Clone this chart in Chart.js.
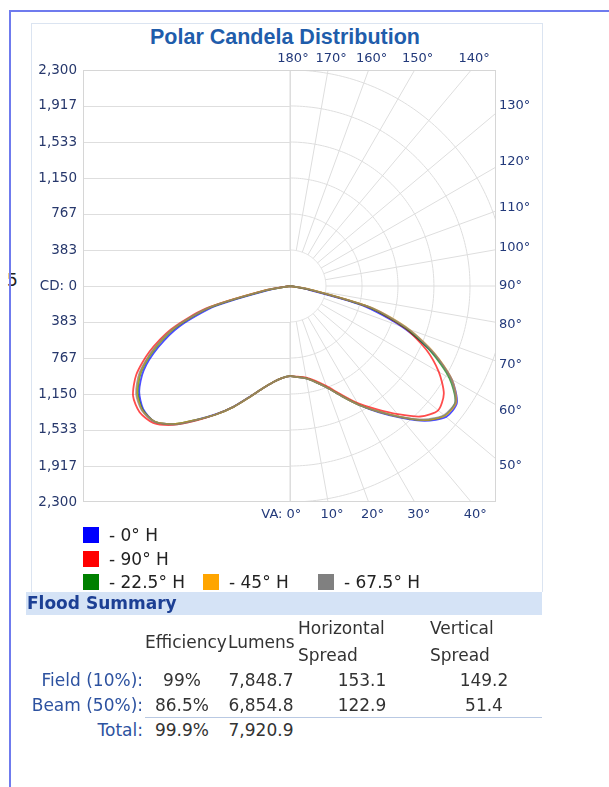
<!DOCTYPE html>
<html><head><meta charset="utf-8">
<script src="https://cdn.jsdelivr.net/npm/chart.js@4/dist/chart.umd.min.js"></script>
<style>
html,body{margin:0;padding:0;background:#fff;width:609px;height:787px;overflow:hidden;font-family:"DejaVu Sans",sans-serif;}
#stray{position:absolute;left:7px;top:270px;font-size:17px;color:#222;}
#frame{position:absolute;left:9px;top:10px;width:700px;height:800px;border-left:2px solid #6f7bee;border-top:2px solid #6f7bee;}
#panel{position:absolute;left:31px;top:23px;width:510px;height:568px;border:1px solid #dbe4f1;border-bottom:none;}
#title{position:absolute;left:32px;width:506px;top:24px;line-height:26px;text-align:center;font-weight:bold;font-size:21.5px;font-family:"Liberation Sans",Arial,sans-serif;color:#1f5dab;}
#chartWrap{position:absolute;left:32px;top:24px;width:510px;height:505px;}
#legend{position:absolute;left:83px;top:526px;font-size:17px;color:#222;}
.lrow{height:23.5px;line-height:18px;white-space:nowrap;}
.litem{display:inline-block;vertical-align:top;}
.lsw{display:inline-block;width:16px;height:16px;vertical-align:top;margin-top:1px;margin-right:10px;}
#bar{position:absolute;left:26px;top:592px;width:516px;height:23px;background:#d5e3f6;}
#bar span{position:absolute;left:1px;top:0;line-height:23px;font-weight:bold;font-size:17px;color:#1c3f94;}
.t{position:absolute;font-size:17px;line-height:20px;color:#333;white-space:nowrap;}
.lab{color:#2d52a0;text-align:right;}
.c{transform:translateX(-50%);}
#uline{position:absolute;left:145px;top:717px;width:397px;height:1px;background:#b9c9e3;}
</style></head>
<body>
<div id="stray">5</div>
<div id="frame"></div>
<div id="panel"></div>
<div id="title">Polar Candela Distribution</div>
<div id="chartWrap"><canvas id="c" width="510" height="505"></canvas></div>
<div id="legend"></div>
<div id="bar"><span>Flood Summary</span></div>
<div id="table"></div>
<div id="uline"></div>
<script>
// ---- data ----
const verticalAngles = [0,5,10,15,20,25,30,35,40,45,50,55,60,65,70,75,80,85,90];
// candela, right half of each plane (H) and left half (H+180)
const cd0H_right    = [960,975,1000,1060,1150,1290,1460,1640,1830,2030,2170,2170,1990,1680,1270,800,150,0,0];
const cd0H_left     = [960,985,1040,1130,1255,1415,1575,1740,1920,2040,2040,1960,1800,1550,1250,820,200,0,0];
const cd90H_right   = [955,970,990,1045,1135,1270,1440,1600,1780,1965,2060,2000,1830,1600,1300,870,200,0,0];
const cd90H_left    = [960,985,1040,1130,1260,1420,1580,1750,1930,2060,2090,2040,1890,1650,1350,930,280,0,0];
const cd22H_right   = [960,975,1000,1060,1150,1290,1460,1630,1820,2020,2150,2150,1960,1660,1310,870,200,0,0];
const cd22H_left    = [960,985,1040,1130,1260,1420,1580,1740,1920,2040,2050,1980,1830,1590,1300,880,250,0,0];
const cd45H_right   = [960,975,1000,1060,1150,1290,1460,1630,1820,2020,2150,2160,1990,1700,1350,910,230,0,0];
const cd45H_left    = [960,985,1040,1130,1260,1420,1580,1740,1920,2040,2055,1990,1840,1600,1310,890,260,0,0];
const cd67H_right   = [960,975,1000,1060,1150,1290,1460,1630,1820,2010,2140,2150,1980,1690,1340,900,220,0,0];
const cd67H_left    = [960,985,1040,1130,1260,1420,1580,1745,1925,2045,2060,2000,1850,1610,1320,900,265,0,0];
const seriesLabels  = ['- 0° H','- 90° H','- 22.5° H','- 45° H','- 67.5° H'];
const seriesColors  = ['#0000ff','#ff0000','#008000','#ffa500','#808080'];
const cdTicks       = [0,383,767,1150,1533,1917,2300];
const gridAngles    = [0,10,20,30,40,50,60,70,80,90,100,110,120,130,140,150,160,170,180];
const topAngles     = [180,170,160,150,140];
const rightAngles   = [130,120,110,100,90,80,70,60,50];
const bottomAngles  = [0,10,20,30,40];
// summary table
const summaryLabels = ['Field (10%):','Beam (50%):','Total:'];
const efficiency    = ['99%','86.5%','99.9%'];
const lumens        = ['7,848.7','6,854.8','7,920.9'];
const hSpread       = ['153.1','122.9'];
const vSpread       = ['149.2','51.4'];

const rad = d => d*Math.PI/180;
function planePoints(left, right){
  const pts=[];
  for(let i=verticalAngles.length-1;i>=0;i--){const t=rad(verticalAngles[i]);pts.push({x:-left[i]*Math.sin(t),y:-left[i]*Math.cos(t)});}
  for(let i=1;i<verticalAngles.length;i++){const t=rad(verticalAngles[i]);pts.push({x:right[i]*Math.sin(t),y:-right[i]*Math.cos(t)});}
  return pts;
}
function alpha(hex,a){const n=parseInt(hex.slice(1),16);return 'rgba('+(n>>16)+','+((n>>8)&255)+','+(n&255)+','+a+')';}
const planes = [[cd0H_left,cd0H_right],[cd90H_left,cd90H_right],[cd22H_left,cd22H_right],[cd45H_left,cd45H_right],[cd67H_left,cd67H_right]];
const datasets = planes.map((p,i)=>({label:seriesLabels[i],data:planePoints(p[0],p[1]),borderColor:alpha(seriesColors[i],0.7),backgroundColor:seriesColors[i],legendColor:seriesColors[i],showLine:true,pointRadius:0,borderWidth:1.8,tension:0.25,fill:false,order:-i}));

const cdMax = 2300;
const allTicks = cdTicks.concat(cdTicks.filter(v=>v>0).map(v=>-v));
const labelFont = '13px "DejaVu Sans"';
const labelColor = '#22397a';

function rayHit(chart, deg){
  const {chartArea:a, scales:{x,y}} = chart;
  const cx=x.getPixelForValue(0), cy=y.getPixelForValue(0);
  const t=rad(deg);
  const dx=x.getPixelForValue(1000*Math.sin(t))-cx, dy=y.getPixelForValue(-1000*Math.cos(t))-cy;
  let k=Infinity;
  if(dx>1e-9) k=Math.min(k,(a.right-cx)/dx);
  if(dy<-1e-9) k=Math.min(k,(a.top-cy)/dy);
  if(dy>1e-9) k=Math.min(k,(a.bottom-cy)/dy);
  return {x:cx+dx*k,y:cy+dy*k};
}

const polarGrid = {
  id:'polarGrid',
  beforeDatasetsDraw(chart){
    const {ctx, chartArea:a, scales:{x,y}} = chart;
    const cx=x.getPixelForValue(0), cy=y.getPixelForValue(0);
    ctx.save();
    ctx.beginPath(); ctx.rect(a.left,a.top,a.right-a.left,a.bottom-a.top); ctx.clip();
    ctx.lineWidth=1; ctx.strokeStyle='#dedede';
    allTicks.forEach(v=>{const py=Math.round(y.getPixelForValue(v))+0.5;ctx.beginPath();ctx.moveTo(a.left,py);ctx.lineTo(cx,py);ctx.stroke();});
    ctx.beginPath();ctx.moveTo(Math.round(cx)+0.5,a.top);ctx.lineTo(Math.round(cx)+0.5,a.bottom);ctx.stroke();
    cdTicks.filter(v=>v>0).forEach(r=>{
      ctx.beginPath();
      for(let d=0;d<=180;d+=1){const t=rad(d);const px=x.getPixelForValue(r*Math.sin(t)),py=y.getPixelForValue(-r*Math.cos(t));if(d===0)ctx.moveTo(px,py);else ctx.lineTo(px,py);}
      ctx.stroke();
    });
    const r0=cdTicks[1];
    gridAngles.forEach(d=>{
      const t=rad(d);
      ctx.beginPath();
      ctx.moveTo(x.getPixelForValue(r0*Math.sin(t)),y.getPixelForValue(-r0*Math.cos(t)));
      ctx.lineTo(x.getPixelForValue(6000*Math.sin(t)),y.getPixelForValue(-6000*Math.cos(t)));
      ctx.stroke();
    });
    ctx.restore();
    ctx.save();
    ctx.strokeStyle='#d6d6d6';ctx.lineWidth=1;
    ctx.strokeRect(Math.round(a.left)+0.5,Math.round(a.top)+0.5,Math.round(a.right-a.left)-1,Math.round(a.bottom-a.top)-1);
    ctx.restore();
  },
  afterDraw(chart){
    const {ctx, chartArea:a} = chart;
    ctx.save();
    ctx.font=labelFont; ctx.fillStyle=labelColor; ctx.textBaseline='middle';
    topAngles.forEach(d=>{const p=rayHit(chart,d);ctx.textAlign='center';ctx.fillText(d+'°',p.x+3,a.top-11);});
    rightAngles.forEach(d=>{const p=rayHit(chart,d);ctx.textAlign='left';ctx.fillText(d+'°',a.right+3,p.y+11*Math.cos(rad(d)));});
    bottomAngles.forEach(d=>{const p=rayHit(chart,d);ctx.textAlign='center';const yy=a.bottom+13;ctx.fillText(d+'°',p.x+4,yy);
      if(d===0){const w=ctx.measureText(d+'°').width;ctx.textAlign='right';ctx.fillText('VA: ',p.x+4-w/2,yy);}});
    ctx.restore();
  }
};

const chart = new Chart(document.getElementById('c'),{
  type:'scatter',
  data:{datasets},
  options:{
    responsive:false, animation:false, devicePixelRatio:1,
    layout:{padding:{top:46,right:46,bottom:27,left:0}},
    plugins:{legend:{display:false},tooltip:{enabled:false},title:{display:false}},
    scales:{
      x:{type:'linear',min:-2204,max:2194,display:false},
      y:{type:'linear',min:-cdMax,max:cdMax,
        afterBuildTicks:s=>{s.ticks=allTicks.slice().sort((p,q)=>p-q).map(v=>({value:v}));},
        afterFit:s=>{s.width=51;},
        grid:{display:false,drawTicks:false},border:{display:false},
        ticks:{padding:6,color:'#27386c',font:{family:'DejaVu Sans',size:13.5},autoSkip:false,
          callback:v=>v===0?'CD: 0':Math.abs(v).toLocaleString('en-US')}}
    }
  },
  plugins:[polarGrid]
});

// legend
const lg=document.getElementById('legend');
const rows=[[0],[1],[2,3,4]];
const widths={2:120,3:115};
rows.forEach(r=>{
  const row=document.createElement('div');row.className='lrow';
  r.forEach(i=>{
    const it=document.createElement('span');it.className='litem';
    if(widths[i])it.style.width=widths[i]+'px';
    it.innerHTML='<span class="lsw" style="background:'+chart.data.datasets[i].legendColor+'"></span>'+chart.data.datasets[i].label;
    row.appendChild(it);
  });
  lg.appendChild(row);
});

// summary table
const tb=document.getElementById('table');
function put(txt,cls,style){const d=document.createElement('div');d.className='t '+cls;d.style.cssText=style;d.textContent=txt;tb.appendChild(d);}
put('Efficiency','', 'left:145px;top:632px;');
put('Lumens','', 'left:228px;top:632px;');
put('Horizontal','', 'left:298px;top:618px;');
put('Spread','', 'left:298px;top:645px;');
put('Vertical','', 'left:430px;top:618px;');
put('Spread','', 'left:430px;top:645px;');
const rowY=[670,695,720];
summaryLabels.forEach((s,i)=>put(s,'lab','right:'+(609-143)+'px;top:'+rowY[i]+'px;'));
efficiency.forEach((s,i)=>put(s,'c','left:182px;top:'+rowY[i]+'px;'));
lumens.forEach((s,i)=>put(s,'c','left:261px;top:'+rowY[i]+'px;'));
hSpread.forEach((s,i)=>put(s,'c','left:362px;top:'+rowY[i]+'px;'));
vSpread.forEach((s,i)=>put(s,'c','left:484px;top:'+rowY[i]+'px;'));
</script>
</body></html>
